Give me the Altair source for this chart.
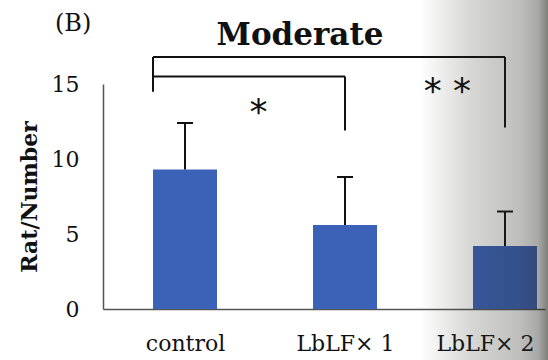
import json
import altair as alt
import pandas as pd

# Group means and standard deviations (rats per group)
groups = ["control", "LbLF× 1", "LbLF× 2"]
means = [9.3, 5.6, 4.2]
sds = [3.1, 3.2, 2.3]

# Significance brackets: group index pairs, bracket heights and marker text
bracket_from = [0, 0]
bracket_to = [1, 2]
bracket_top = [15.5, 16.8]
bracket_drop_left = [14.5, 14.5]
bracket_drop_right = [11.9, 12.1]
star_text = ["*", "* *"]
star_x = [0.46, 1.64]
star_y = [13.7, 15.1]

y_ticks = [0, 5, 10, 15]

BAR_HALF = 0.2
CAP_HALF = 0.05
BAR_COLOR = "#3B62B6"
INK = "#111111"
SERIF = "DejaVu Serif"

bars = pd.DataFrame({
    "idx": list(range(len(groups))),
    "group": groups,
    "mean": means,
    "sd": sds,
})
brackets = pd.DataFrame({
    "a": bracket_from,
    "b": bracket_to,
    "top": bracket_top,
    "dl": bracket_drop_left,
    "dr": bracket_drop_right,
})
stars = pd.DataFrame({"x": star_x, "y": star_y, "label": star_text})

x_scale = alt.Scale(domain=[-0.5125, 2.25], nice=False, zero=False)
y_scale = alt.Scale(domain=[0, 15], nice=False)

label_expr = json.dumps(groups) + "[datum.value]"
x_axis = alt.Axis(
    values=[0, 1, 2], labelExpr=label_expr, title=None, grid=False, ticks=False,
    domainColor="#555555", domainWidth=1.5, labelFont=SERIF, labelFontSize=22,
    labelColor=INK, labelPadding=24,
    # the last label sits close to the right edge, so nudge it inward
    labelOffset={"condition": {"test": "datum.value === 2", "value": -20}, "value": 0},
)
y_axis = alt.Axis(
    values=y_ticks, title="Rat/Number", grid=False, ticks=False,
    domainColor="#555555", domainWidth=1.5, labelFont=SERIF, labelFontSize=22,
    labelColor=INK, labelPadding=24, titleFont=SERIF, titleFontSize=22,
    titleFontWeight="bold", titleColor=INK, titlePadding=10,
)

base = alt.Chart(bars).transform_calculate(
    x0=f"datum.idx - {BAR_HALF}",
    x1=f"datum.idx + {BAR_HALF}",
    c0=f"datum.idx - {CAP_HALF}",
    c1=f"datum.idx + {CAP_HALF}",
    top="datum.mean + datum.sd",
)

bar_layer = base.mark_rect(color=BAR_COLOR).encode(
    x=alt.X("x0:Q", scale=x_scale, axis=x_axis),
    x2="x1:Q",
    y=alt.Y("mean:Q", scale=y_scale, axis=y_axis),
    y2=alt.datum(0),
)

err_stem = base.mark_rule(color=INK, strokeWidth=2).encode(
    x="idx:Q", y="mean:Q", y2="top:Q"
)
err_cap = base.mark_rule(color=INK, strokeWidth=2).encode(
    x="c0:Q", x2="c1:Q", y="top:Q"
)

bracket_base = alt.Chart(brackets).transform_calculate(
    xa=f"datum.a - {BAR_HALF}",
)
bracket_h = bracket_base.mark_rule(color=INK, strokeWidth=2).encode(
    x="xa:Q", x2="b:Q", y="top:Q"
)
bracket_l = bracket_base.mark_rule(color=INK, strokeWidth=2).encode(
    x="xa:Q", y="top:Q", y2="dl:Q"
)
bracket_r = bracket_base.mark_rule(color=INK, strokeWidth=2).encode(
    x="b:Q", y="top:Q", y2="dr:Q"
)

star_layer = alt.Chart(stars).mark_text(
    font="DejaVu Sans", fontSize=36, baseline="middle", align="center",
    color=INK, dy=9,
).encode(x="x:Q", y="y:Q", text="label:N")

# Panel tag and heading drawn as plain text marks above the plot
headings = pd.DataFrame({"t": ["(B)", "Moderate"]})
panel_tag = alt.Chart(headings).transform_filter("datum.t === '(B)'").mark_text(
    font=SERIF, fontSize=24, align="left", baseline="middle", color=INK,
).encode(x=alt.value(-48), y=alt.value(-60), text="t:N")
heading = alt.Chart(headings).transform_filter("datum.t === 'Moderate'").mark_text(
    font=SERIF, fontSize=31, fontWeight="bold", align="center",
    baseline="alphabetic", color=INK,
).encode(x=alt.value(197), y=alt.value(-39), text="t:N")

# Page-curl shading toward the right edge of the sheet
shade = alt.LinearGradient(
    gradient="linear", x1=0, x2=1, y1=0, y2=0,
    stops=[
        alt.GradientStop(color="rgba(40,40,35,0)", offset=0),
        alt.GradientStop(color="rgba(40,40,35,0.12)", offset=0.25),
        alt.GradientStop(color="rgba(40,40,35,0.19)", offset=0.4),
        alt.GradientStop(color="rgba(40,40,35,0.3)", offset=0.78),
        alt.GradientStop(color="rgba(40,40,35,0.4)", offset=0.92),
        alt.GradientStop(color="rgba(40,40,35,0.6)", offset=1),
    ],
)
shade_layer = alt.Chart(pd.DataFrame({"s": [0]})).mark_rect(color=shade).encode(
    x=alt.value(317), x2=alt.value(445), y=alt.value(-84), y2=alt.value(276)
)

chart = alt.layer(
    bar_layer, err_stem, err_cap, bracket_h, bracket_l, bracket_r,
    star_layer, panel_tag, heading, shade_layer,
).properties(
    width=442,
    height=225,
    autosize=alt.AutoSizeParams(type="none"),
    padding={"left": 103, "top": 84, "right": 3, "bottom": 51},
    background="white",
).configure_view(stroke=None)

chart.save("out.html", embed_options={"renderer": "svg", "actions": False})
